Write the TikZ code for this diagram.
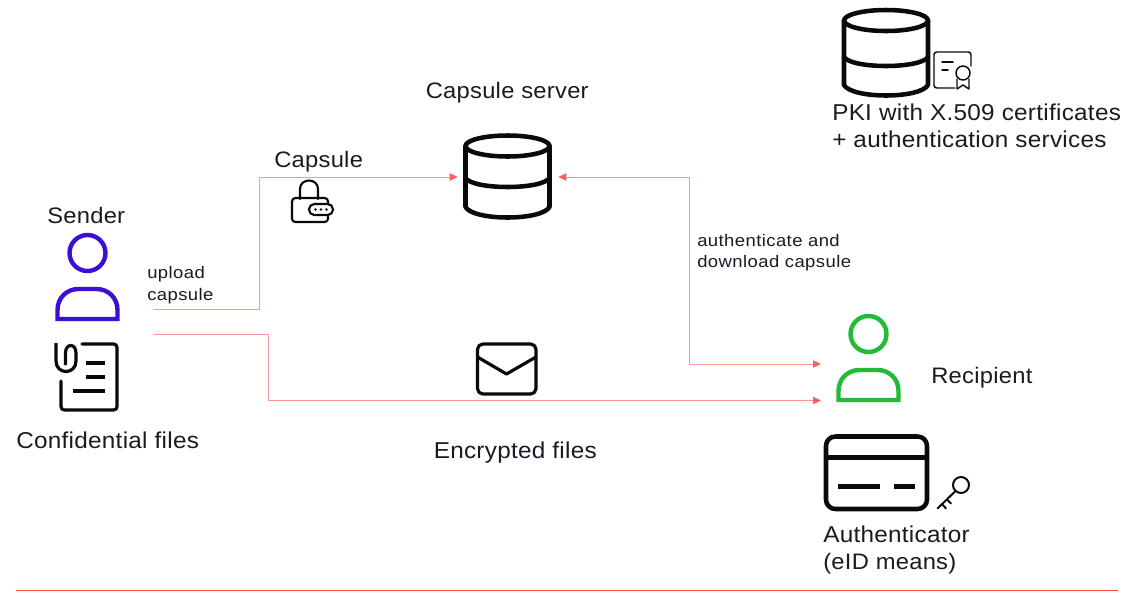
\documentclass[tikz,border=0pt]{standalone}
\usepackage{fontspec}
\setmainfont{Liberation Sans}[FakeStretch=1.06,LetterSpace=1.2]
\newfontface\smallface{Liberation Sans}[FakeStretch=1.1,LetterSpace=2.5]
\usetikzlibrary{arrows.meta}
\definecolor{linkred}{HTML}{FF9494}
\definecolor{tipred}{HTML}{FF5F5F}
\definecolor{rulered}{HTML}{FF4444}
\definecolor{sendblue}{HTML}{3C10D2}
\definecolor{recvgreen}{HTML}{22BB38}
\definecolor{inkblack}{HTML}{0A0A0A}
\definecolor{txt}{HTML}{1A1A24}
\tikzset{
  x=0.75pt,y=-0.75pt,
  big/.style={anchor=base west,inner sep=0pt,font=\fontsize{17.2pt}{20pt}\selectfont,text=txt,align=left},
  bigtight/.style={big,font=\fontsize{16.8pt}{20pt}\selectfont},
  small/.style={anchor=base west,inner sep=0pt,font=\smallface\fontsize{12.6pt}{15pt}\selectfont,text=txt,align=left},
  tip/.tip={Triangle[length=6pt,width=5.5pt,color=tipred]},
  link/.style={draw=linkred,line width=0.75pt,-tip},
  heavy/.style={draw=inkblack,line width=3.4pt,line join=round,line cap=round},
  medium/.style={draw=inkblack,line width=2.4pt,line join=round,line cap=round},
  fine/.style={draw=inkblack,line width=1.1pt,line join=round,line cap=round},
  lockline/.style={draw=inkblack,line width=1.6pt,line join=round,line cap=round},
  anchorbox/.style={inner sep=0pt,minimum width=#1,minimum height=60pt},
}
\newcommand{\dbicon}[5]{% cx, half width, top centre y, mid y, bottom y
  \draw[heavy] (#1,#3) ellipse [x radius=#2,y radius=10.5];
  \draw[heavy] (#1-#2,#3) -- (#1-#2,#5) .. controls (#1-#2+8,#5+14) and (#1+#2-8,#5+14) .. (#1+#2,#5) -- (#1+#2,#3);
  \draw[heavy] (#1-#2,#4) .. controls (#1-#2+8,#4+12) and (#1+#2-8,#4+12) .. (#1+#2,#4);
}
\newcommand{\personicon}[3]{% cx, circle centre y, colour
  \draw[#3,line width=3.3pt] (#1,#2) circle [radius=18];
  \draw[#3,line width=3.3pt,line join=miter] (#1-30,#2+66) -- (#1-30,#2+57) .. controls (#1-30,#2+45) and (#1-21,#2+36) .. (#1-9,#2+36) -- (#1+9,#2+36) .. controls (#1+21,#2+36) and (#1+30,#2+45) .. (#1+30,#2+57) -- (#1+30,#2+66) -- cycle;
}
\begin{document}
\begin{tikzpicture}
\useasboundingbox (0,0) rectangle (1136,594);

% invisible anchors for the connectors
\node[anchorbox=75pt] (server) at (508,177) {};
\coordinate (senderUp) at (153,309);
\coordinate (senderDown) at (153,334);
\coordinate (recipientUp) at (821,364);
\coordinate (recipientDown) at (821,400.5);

% connectors
\draw[link] (senderUp) -- (259,309) -- (259,177) -- (server.west);
\draw[link] (senderDown) -- (268,334) -- (268,400.5) -- (recipientDown);
\draw[link,tip-tip] (server.east) -- (689,177) -- (689,364) -- (recipientUp);
\coordinate (ruleL) at (16,590.5);
\coordinate (ruleR) at (1118,590.5);
\draw[rulered,line width=0.9pt] (ruleL) -- (ruleR);

% people
\personicon{87.5}{253}{sendblue}
\personicon{868.5}{334}{recvgreen}

% databases
\dbicon{507.5}{42}{146}{178}{207}
\dbicon{886}{42}{20.5}{57}{85}

% confidential files icon
\draw[medium,rounded corners=2.5pt] (82,344) -| (117,410) -| (61,381);
\draw[medium,line cap=butt] (56,343) -- (56,361) .. controls (56,375) and (76,375) .. (76,361) -- (76,353) .. controls (76,343) and (65.5,343) .. (65.5,353) -- (65.5,365);
\draw[medium,line cap=butt] (86,363) -- (105,363);
\draw[medium,line cap=butt] (86,377) -- (105,377);
\draw[medium,line cap=butt] (73,391) -- (105,391);

% lock icon
\draw[lockline] (300,199) -- (300,189) .. controls (300,177.7) and (318,177.7) .. (318,189) -- (318,199);
\draw[lockline,rounded corners=2.5pt] (292,198) rectangle (328,222);
\draw[lockline,fill=white,rounded corners=4pt] (309,204) rectangle (333,215);
\fill[inkblack] (315.5,209.5) circle [radius=1.3] (321,209.5) circle [radius=1.3] (326.5,209.5) circle [radius=1.3];

% envelope icon
\draw[medium,rounded corners=4] (477.5,344) rectangle (536,394);
\draw[medium] (477.5,357) -- (506.5,374) -- (536,357);

% certificate icon
\draw[fine,rounded corners=2pt] (955,88) -| (934,52) -| (971,66);
\draw[fine] (942,62) -- (953,62) (942,70) -- (948,70);
\draw[fine] (963,73) circle [radius=7];
\draw[fine] (957,79) -- (957,89) -- (963,85) -- (969,89) -- (969,79);

% card icon
\draw[heavy,rounded corners=7] (826,436.5) rectangle (927,509);
\draw[heavy,line cap=butt] (826,457.5) -- (927,457.5);
\draw[heavy,line cap=butt] (838,486.5) -- (880,486.5);
\draw[heavy,line cap=butt] (894,486.5) -- (915,486.5);

% key icon
\draw[lockline,line width=1.5pt] (961,485) circle [radius=8];
\draw[lockline,line width=1.5pt] (955.5,491) -- (937.5,508.5) (942,504) -- (946,508.5) (947,499.5) -- (951,503.5);

% labels
\node[bigtight] (lblSender) at (47,223) {Sender};
\node[big] (lblConf) at (16,448) {Confidential files};
\node[bigtight] (lblServer) at (425.5,98) {Capsule server};
\node[bigtight] (lblCapsule) at (274,167) {Capsule};
\node[big] (lblEnc) at (433.5,458) {Encrypted files};
\node[big] (lblPki) at (832,120) {PKI with X.509 certificates};
\node[big] (lblAuthSvc) at (832,147) {+ authentication services};
\node[bigtight] (lblRecipient) at (931,383) {Recipient};
\node[big] (lblAuth) at (823,542) {Authenticator};
\node[bigtight] (lblEid) at (823,569) {(eID means)};
\node[small] (lblUpload) at (147,278) {upload};
\node[small] (lblUpCap) at (147,300) {capsule};
\node[small] (lblAuthDl) at (697,246) {authenticate and};
\node[small] (lblDl) at (697,267) {download capsule};
\end{tikzpicture}
\end{document}
